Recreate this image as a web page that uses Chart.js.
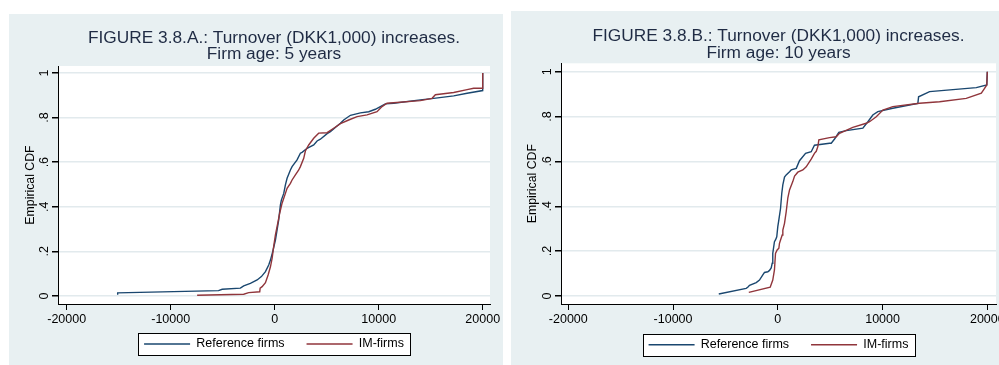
<!DOCTYPE html>
<html><head><meta charset="utf-8">
<script src="https://cdn.jsdelivr.net/npm/chart.js@4.4.1/dist/chart.umd.min.js"></script>
<style>
html,body{margin:0;padding:0;background:#ffffff;overflow:hidden;width:999px;height:365px;}
canvas{position:absolute;}
#cA{left:9px;top:14px;}
#cB{left:511px;top:11px;}
</style></head><body>
<canvas id="cA" width="494" height="351"></canvas>
<canvas id="cB" width="500" height="354"></canvas>
<script>
// ---- data ----
const seriesNames = ["Reference firms", "IM-firms"];
const titleA = ["FIGURE 3.8.A.: Turnover (DKK1,000) increases.", "Firm age: 5 years"];
const titleB = ["FIGURE 3.8.B.: Turnover (DKK1,000) increases.", "Firm age: 10 years"];
const yAxisTitle = "Empirical CDF";
const xTickValues = [-20000, -10000, 0, 10000, 20000];
const xTickLabels = ["-20000", "-10000", "0", "10000", "20000"];
const yTickValues = [0, 0.2, 0.4, 0.6, 0.8, 1];
const yTickLabels = ["0", ".2", ".4", ".6", ".8", "1"];

// Figure A – firm age 5 years
const refA_x = [-15100, -15100, -5400, -5050, -3300, -2980, -2340, -1690, -1280, -890, -575, -410, -190, 70, 230, 385, 550, 640, 870, 1030, 1190, 1510, 1670, 2150, 2470, 2630, 3115, 3750, 4075, 4390, 5040, 5355, 6000, 6320, 6635, 7280, 8240, 9040, 9680, 10160, 10640, 11440, 14010, 15290, 17210, 18500, 20000, 20000];
const refA_y = [0.006, 0.014, 0.024, 0.030, 0.035, 0.045, 0.057, 0.072, 0.087, 0.109, 0.139, 0.161, 0.199, 0.251, 0.296, 0.341, 0.408, 0.430, 0.460, 0.498, 0.528, 0.565, 0.580, 0.610, 0.640, 0.644, 0.662, 0.677, 0.695, 0.703, 0.728, 0.737, 0.762, 0.774, 0.789, 0.810, 0.821, 0.826, 0.837, 0.849, 0.861, 0.864, 0.879, 0.886, 0.897, 0.909, 0.921, 1.0];
const imA_x = [-7460, -2980, -2500, -1440, -1400, -1210, -890, -635, -410, -250, -100, 70, 290, 480, 710, 870, 1030, 1190, 1510, 1670, 1990, 2310, 2470, 2790, 2950, 3270, 3750, 4230, 5040, 5670, 6320, 7115, 7920, 8880, 9840, 10320, 10800, 14010, 15130, 15450, 17210, 18500, 19130, 20000, 20000];
const imA_y = [0.003, 0.008, 0.015, 0.019, 0.035, 0.042, 0.060, 0.094, 0.131, 0.169, 0.221, 0.274, 0.326, 0.371, 0.416, 0.438, 0.460, 0.483, 0.505, 0.520, 0.543, 0.565, 0.580, 0.617, 0.650, 0.677, 0.707, 0.730, 0.732, 0.752, 0.773, 0.789, 0.804, 0.812, 0.826, 0.849, 0.864, 0.876, 0.886, 0.902, 0.912, 0.925, 0.931, 0.931, 1.0];

// Figure B – firm age 10 years
const refB_x = [-5635, -3020, -2870, -2700, -2060, -1750, -1430, -1270, -955, -790, -630, -535, -480, -320, -220, -100, 0, 100, 260, 380, 480, 640, 800, 1120, 1280, 1760, 2070, 2650, 3190, 3500, 4940, 5100, 5420, 5830, 6530, 8120, 8600, 9070, 9550, 10980, 13370, 13440, 14490, 18950, 19950, 20000];
const refB_y = [0.009, 0.034, 0.039, 0.048, 0.060, 0.071, 0.094, 0.105, 0.108, 0.114, 0.125, 0.146, 0.190, 0.242, 0.250, 0.264, 0.309, 0.339, 0.390, 0.458, 0.495, 0.530, 0.540, 0.554, 0.562, 0.569, 0.603, 0.636, 0.643, 0.672, 0.681, 0.681, 0.700, 0.730, 0.737, 0.748, 0.777, 0.807, 0.822, 0.837, 0.859, 0.888, 0.911, 0.929, 0.941, 1.0];
const imB_x = [-2770, -725, -480, -320, -220, -60, 100, 160, 230, 420, 480, 640, 800, 960, 1120, 1430, 1600, 1910, 2390, 2710, 3190, 3500, 3670, 3820, 3920, 4940, 5580, 5890, 7160, 8440, 8760, 9400, 10030, 10980, 13530, 15440, 17990, 19430, 19740, 19950, 20000];
const imB_y = [0.016, 0.039, 0.071, 0.116, 0.190, 0.205, 0.213, 0.235, 0.245, 0.272, 0.294, 0.324, 0.375, 0.438, 0.473, 0.510, 0.535, 0.552, 0.562, 0.576, 0.610, 0.636, 0.645, 0.666, 0.696, 0.706, 0.710, 0.725, 0.752, 0.770, 0.777, 0.799, 0.829, 0.844, 0.859, 0.866, 0.881, 0.904, 0.926, 0.941, 1.0];

// ---- style ----
const FONT = "'Liberation Sans', Arial, Helvetica, sans-serif";
const BG = '#e8f0f2';
const GRID = '#e2eaed';
const BLUE = '#1a476f';
const RED = '#90353b';
Chart.defaults.font.family = FONT;

function pts(xs, ys) { return xs.map((x, i) => ({x: x, y: ys[i]})); }

function legendRect(chart) {
  const lg = chart.legend;
  if (!lg || !lg.legendHitBoxes || !lg.legendHitBoxes.length) return null;
  const hb = lg.legendHitBoxes;
  const l = Math.min(...hb.map(h => h.left)) - 6;
  const r = Math.max(...hb.map(h => h.left + h.width)) + 6;
  const cy = hb[0].top + hb[0].height / 2;
  return {x: Math.round(l) + 0.5, y: Math.round(cy - 11) + 0.5, w: Math.round(r - l), h: 22};
}

const panelPlugin = {
  id: 'panel',
  afterLayout(chart) {
    // let x tick labels overflow their compact box instead of being clipped
    const xs = chart.scales.x;
    xs.bottom = chart.height;
    xs._labelItems = null;
  },
  beforeDraw(chart) {
    const {ctx, chartArea: a, width, height} = chart;
    ctx.save();
    ctx.fillStyle = BG;
    ctx.fillRect(0, 0, width, height);
    ctx.fillStyle = '#ffffff';
    ctx.fillRect(a.left, a.top, a.right - a.left, a.bottom - a.top);
    const r = legendRect(chart);
    if (r) ctx.fillRect(r.x, r.y, r.w, r.h);
    ctx.restore();
  },
  afterDraw(chart) {
    const ctx = chart.ctx;
    // vertical (rotated) y tick labels, Stata style
    const ys = chart.scales.y;
    ctx.save();
    ctx.font = '12.5px ' + FONT;
    ctx.fillStyle = '#000';
    ctx.textAlign = 'center';
    ctx.textBaseline = 'middle';
    yTickValues.forEach((v, i) => {
      ctx.save();
      ctx.translate(chart.chartArea.left - 13, ys.getPixelForValue(v));
      ctx.rotate(-Math.PI / 2);
      ctx.fillText(yTickLabels[i], 0, 0);
      ctx.restore();
    });
    ctx.restore();
    const r = legendRect(chart);
    if (!r) return;
    ctx.save();
    ctx.strokeStyle = '#000';
    ctx.lineWidth = 1;
    ctx.strokeRect(r.x, r.y, r.w, r.h);
    ctx.restore();
  }
};

function makeChart(id, title, refX, refY, imX, imY, g) {
  return new Chart(document.getElementById(id), {
    type: 'scatter',
    data: {
      datasets: [
        {label: seriesNames[1], data: pts(imX, imY), borderColor: RED, backgroundColor: RED,
         borderWidth: 1.4, pointRadius: 0, showLine: true, tension: 0, fill: false},
        {label: seriesNames[0], data: pts(refX, refY), borderColor: BLUE, backgroundColor: BLUE,
         borderWidth: 1.4, pointRadius: 0, showLine: true, tension: 0, fill: false}
      ]
    },
    options: {
      responsive: false,
      animation: false,
      events: [],
      devicePixelRatio: 1,
      layout: {padding: {left: 0, right: g.padRight, top: 0, bottom: g.padBottom}},
      plugins: {
        tooltip: {enabled: false},
        title: {
          display: true, text: title, fullSize: false, color: '#1f2b44',
          font: {family: FONT, size: 17.3, weight: 'normal', lineHeight: 16.3 / 17.3},
          padding: {top: g.titleTop, bottom: g.titleBottom}
        },
        legend: {
          display: true, position: 'bottom', fullSize: false,
          labels: {
            color: '#000', font: {family: FONT, size: 12.5}, boxWidth: 46, boxHeight: 1.5, padding: 22,
            sort: (a, b) => seriesNames.indexOf(a.text) - seriesNames.indexOf(b.text),
            generateLabels(chart) {
              const items = Chart.defaults.plugins.legend.labels.generateLabels(chart);
              items.forEach(it => { it.lineWidth = 0; it.fillStyle = it.strokeStyle; });
              return items;
            }
          }
        }
      },
      scales: {
        x: {
          type: 'linear', position: 'bottom', min: g.xMin, max: g.xMax,
          afterBuildTicks: s => { s.ticks = xTickValues.map(v => ({value: v})); },
          ticks: {
            autoSkip: false, maxRotation: 0, minRotation: 0, padding: 2.5, color: '#000',
            font: {family: FONT, size: 12.5},
            callback: v => xTickLabels[xTickValues.indexOf(v)]
          },
          grid: {drawOnChartArea: false, drawTicks: true, tickLength: 6, tickColor: '#000', color: '#000', lineWidth: 1},
          border: {display: true, color: '#000', width: 1},
          afterFit: s => { s.height = g.xAxisH; s.paddingLeft = 0; s.paddingRight = 0; }
        },
        y: {
          type: 'linear', position: 'left', min: g.yMin, max: g.yMax,
          afterBuildTicks: s => { s.ticks = yTickValues.map(v => ({value: v})); },
          ticks: {display: false},
          grid: {color: GRID, lineWidth: 1.5, drawTicks: true, tickLength: 6, tickColor: '#000'},
          border: {display: true, color: '#000', width: 1},
          title: {display: true, text: yAxisTitle, color: '#000', font: {family: FONT, size: 12.3},
                  padding: {top: 14.3, bottom: 0}},
          afterFit: s => { s.width = g.yAxisW; s.paddingTop = 0; s.paddingBottom = 0; }
        }
      }
    },
    plugins: [panelPlugin]
  });
}

makeChart('cA', titleA, refA_x, refA_y, imA_x, imA_y, {
  padRight: 13, padBottom: 4.75, titleTop: 16, titleBottom: 3.4, xAxisH: 11.75, yAxisW: 49,
  xMin: -20837, xMax: 20702, yMin: -0.0359, yMax: 1.031
});
makeChart('cB', titleB, refB_x, refB_y, imB_x, imB_y, {
  padRight: 15, padBottom: 4.05, titleTop: 17.4, titleBottom: 2.3, xAxisH: 12.45, yAxisW: 50,
  xMin: -20697, xMax: 20830, yMin: -0.0357, yMax: 1.0374
});
</script>
</body></html>
